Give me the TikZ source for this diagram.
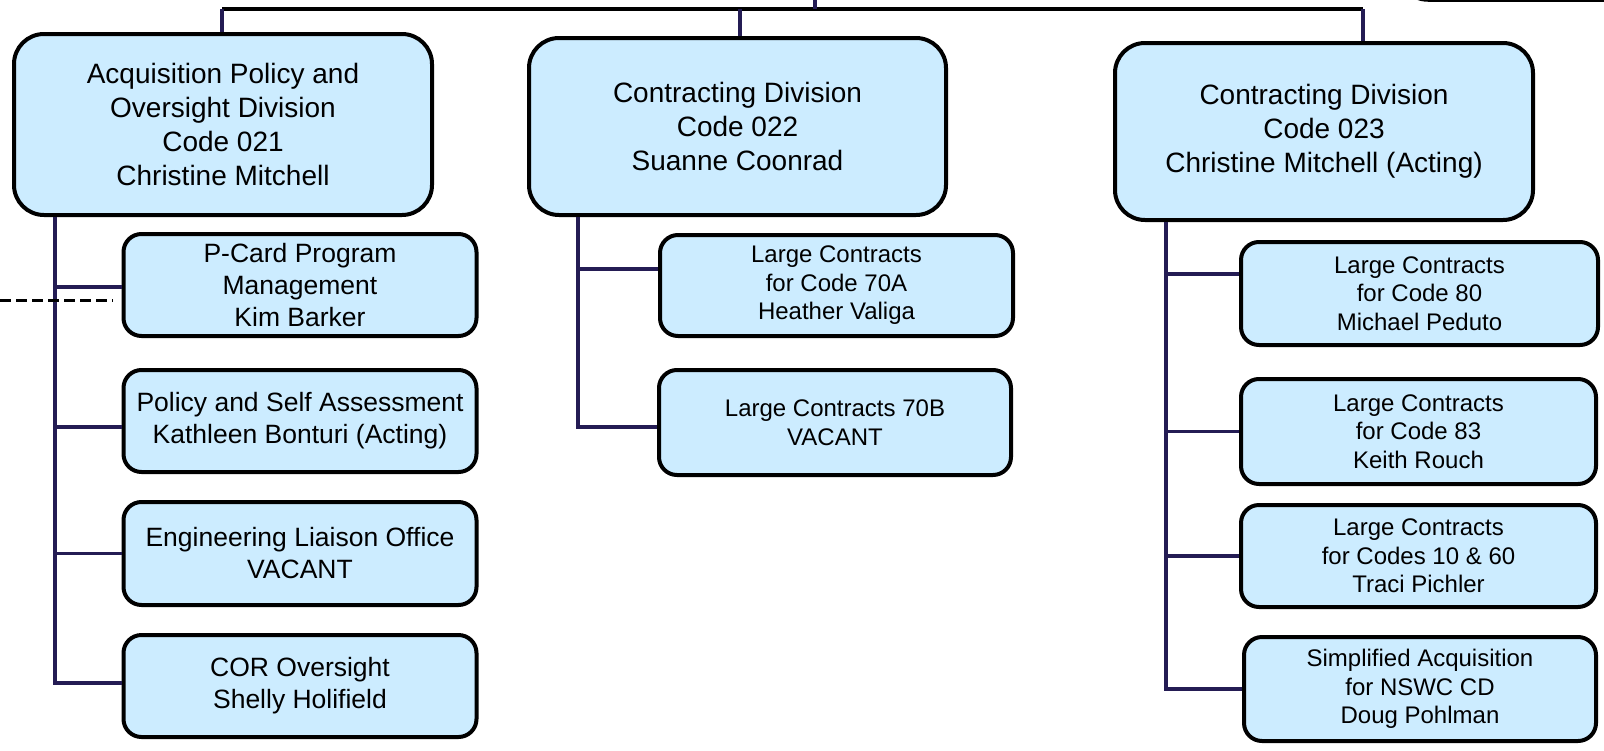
\documentclass[tikz,border=0pt]{standalone}
\usepackage{fontspec}
\setmainfont{Liberation Sans}

\definecolor{boxblue}{RGB}{204,236,255}
\definecolor{linknavy}{RGB}{36,28,84}

\begin{document}
\begin{tikzpicture}[x=1pt, y=-1pt,
        divbox/.style={draw, line width=4pt, fill=boxblue, rounded corners=30pt,
            inner sep=0pt, align=center, font=\fontsize{28}{34}\selectfont},
        leftbox/.style={draw, line width=4pt, fill=boxblue, rounded corners=18pt,
            inner sep=0pt, align=center, font=\fontsize{26.5}{32}\selectfont},
        unitbox/.style={leftbox, font=\fontsize{24}{28.5}\selectfont},
        link/.style={draw=linknavy, line width=3.3pt},
        bus/.style={draw=black, line width=3.5pt}]
            \useasboundingbox (0,0) rectangle (1604,750);
            \clip (0,0) rectangle (1604,750);

            % bottom edge of the box above
            \draw[line width=3.5pt, rounded corners=30pt, fill=white] (1398,-80) rectangle (1700,0);

            % divisions
            \node[divbox, minimum width=418pt, minimum height=181pt] (apod) at (223,124.5)
                {Acquisition Policy and\\Oversight Division\\Code 021\\Christine Mitchell};
            \node[divbox, minimum width=417pt, minimum height=177pt] (cd22) at (737.5,126.5)
                {Contracting Division\\Code 022\\Suanne Coonrad};
            \node[divbox, minimum width=418pt, minimum height=177pt] (cd23) at (1324,131.5)
                {Contracting Division\\Code 023\\Christine Mitchell (Acting)};

            % branches of 021
            \node[leftbox, minimum width=353pt, minimum height=102pt] (pcard) at (300,285)
                {P-Card Program\\Management\\Kim Barker};
            \node[leftbox, minimum width=353pt, minimum height=102pt] (policy) at (300,421)
                {Policy and Self Assessment\\Kathleen Bonturi (Acting)};
            \node[leftbox, minimum width=353pt, minimum height=103pt] (elo) at (300,553.5)
                {Engineering Liaison Office\\VACANT};
            \node[leftbox, minimum width=353pt, minimum height=102pt] (cor) at (300,686)
                {COR Oversight\\Shelly Holifield};

            % branches of 022
            \node[unitbox, minimum width=353pt, minimum height=101pt] (lc70a) at (836.5,285.5)
                {Large Contracts\\for Code 70A\\Heather Valiga};
            \node[unitbox, minimum width=352pt, minimum height=105pt] (lc70b) at (835,422.5)
                {Large Contracts 70B\\VACANT};

            % branches of 023
            \node[unitbox, minimum width=357pt, minimum height=103pt] (lc80) at (1419.5,293.5)
                {Large Contracts\\for Code 80\\Michael Peduto};
            \node[unitbox, minimum width=355pt, minimum height=105pt] (lc83) at (1418.5,431.5)
                {Large Contracts\\for Code 83\\Keith Rouch};
            \node[unitbox, minimum width=355pt, minimum height=102pt] (lc1060) at (1418.5,556)
                {Large Contracts\\for Codes 10 \& 60\\Traci Pichler};
            \node[unitbox, minimum width=352pt, minimum height=104pt] (sa) at (1420,689)
                {Simplified Acquisition\\for NSWC CD\\Doug Pohlman};

            % top bus
            \coordinate (bus1) at (222,9);
            \coordinate (bus2) at (740,9);
            \coordinate (bus3) at (1363,9);
            \coordinate (busup) at (815,9);
            \coordinate (up) at (815,0);
            \draw[bus] (bus1) -- (bus3);
            \draw[link] (busup) -- (up);
            \draw[link] (bus1) -- (bus1 |- apod.north);
            \draw[link] (bus2) -- (bus2 |- cd22.north);
            \draw[link] (bus3) -- (bus3 |- cd23.north);

            % trunks
            \coordinate (ltrunk) at (55,217);
            \coordinate (mtrunk) at (578,217);
            \coordinate (rtrunk) at (1166,222);
            \draw[link] (ltrunk) |- ([yshift=-2pt]pcard.west);
            \draw[link] (ltrunk) |- ([yshift=-6pt]policy.west);
            \draw[link] (ltrunk) |- (elo.west);
            \draw[link] (ltrunk) |- ([yshift=3pt]cor.west);
            \draw[link] (mtrunk) |- ([yshift=16.5pt]lc70a.west);
            \draw[link] (mtrunk) |- ([yshift=-4.5pt]lc70b.west);
            \draw[link] (rtrunk) |- ([yshift=19.5pt]lc80.west);
            \draw[link] (rtrunk) |- (lc83.west);
            \draw[link] (rtrunk) |- (lc1060.west);
            \draw[link] (rtrunk) |- (sa.west);

            % dashed line in from the left
            \coordinate (dashstart) at (0,300);
            \coordinate (dashend) at (113,300);
            \draw[line width=3pt, dash pattern=on 11pt off 5pt] (dashstart) -- (dashend);
        \end{tikzpicture}
\end{document}
